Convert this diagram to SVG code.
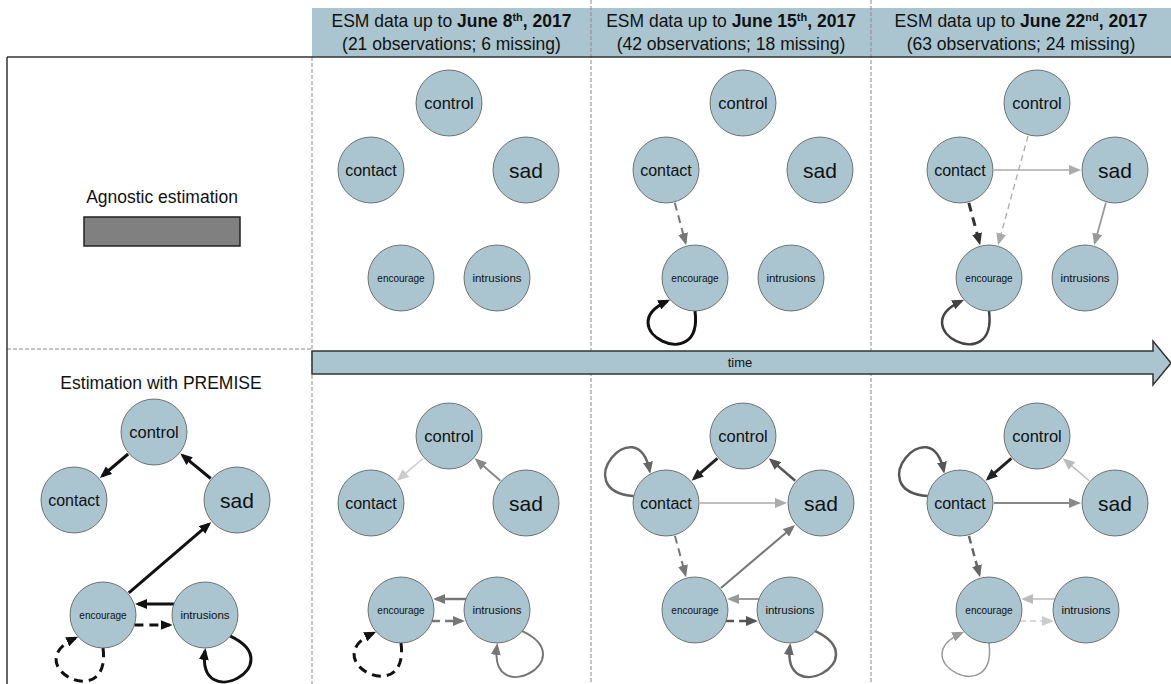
<svg xmlns="http://www.w3.org/2000/svg" width="1171" height="684" viewBox="0 0 1171 684">
<style>
.bg{fill:#ffffff}
.hdr{fill:#aac5cf}
.sep{stroke:#8a8a8a;stroke-width:1;stroke-dasharray:4 2;fill:none}
.frame{stroke:#333;stroke-width:1.5;fill:none}
.nd{fill:#aac5cf;stroke:#555;stroke-width:0.8}
.t{font-family:"Liberation Sans",Arial,Helvetica,sans-serif;fill:#111;text-anchor:middle}
.h{font-size:17.5px}
.fc{font-size:16.5px}
.fk{font-size:16px}
.fs{font-size:21px}
.fe{font-size:10px}
.fi{font-size:11.5px}
.e{fill:none}
.d3{stroke-dasharray:9 6}
.d2{stroke-dasharray:8 5}
.d1{stroke-dasharray:6 4}
</style>
<defs>
<marker id="a111" viewBox="0 0 12 10" refX="9" refY="5" markerWidth="12" markerHeight="10" markerUnits="userSpaceOnUse" orient="auto"><path d="M0,0L12,5L0,10z" fill="#111"/></marker>
<marker id="a222" viewBox="0 0 12 10" refX="9" refY="5" markerWidth="12" markerHeight="10" markerUnits="userSpaceOnUse" orient="auto"><path d="M0,0L12,5L0,10z" fill="#222"/></marker>
<marker id="a333" viewBox="0 0 12 10" refX="9" refY="5" markerWidth="12" markerHeight="10" markerUnits="userSpaceOnUse" orient="auto"><path d="M0,0L12,5L0,10z" fill="#333"/></marker>
<marker id="a444" viewBox="0 0 12 10" refX="9" refY="5" markerWidth="12" markerHeight="10" markerUnits="userSpaceOnUse" orient="auto"><path d="M0,0L12,5L0,10z" fill="#444"/></marker>
<marker id="a555" viewBox="0 0 12 10" refX="9" refY="5" markerWidth="12" markerHeight="10" markerUnits="userSpaceOnUse" orient="auto"><path d="M0,0L12,5L0,10z" fill="#555"/></marker>
<marker id="a666" viewBox="0 0 12 10" refX="9" refY="5" markerWidth="12" markerHeight="10" markerUnits="userSpaceOnUse" orient="auto"><path d="M0,0L12,5L0,10z" fill="#666"/></marker>
<marker id="a777" viewBox="0 0 12 10" refX="9" refY="5" markerWidth="12" markerHeight="10" markerUnits="userSpaceOnUse" orient="auto"><path d="M0,0L12,5L0,10z" fill="#777"/></marker>
<marker id="a888" viewBox="0 0 12 10" refX="9" refY="5" markerWidth="12" markerHeight="10" markerUnits="userSpaceOnUse" orient="auto"><path d="M0,0L12,5L0,10z" fill="#888"/></marker>
<marker id="a999" viewBox="0 0 12 10" refX="9" refY="5" markerWidth="12" markerHeight="10" markerUnits="userSpaceOnUse" orient="auto"><path d="M0,0L12,5L0,10z" fill="#999"/></marker>
<marker id="aaaa" viewBox="0 0 12 10" refX="9" refY="5" markerWidth="12" markerHeight="10" markerUnits="userSpaceOnUse" orient="auto"><path d="M0,0L12,5L0,10z" fill="#aaa"/></marker>
<marker id="abbb" viewBox="0 0 12 10" refX="9" refY="5" markerWidth="12" markerHeight="10" markerUnits="userSpaceOnUse" orient="auto"><path d="M0,0L12,5L0,10z" fill="#bbb"/></marker>
<marker id="accc" viewBox="0 0 12 10" refX="9" refY="5" markerWidth="12" markerHeight="10" markerUnits="userSpaceOnUse" orient="auto"><path d="M0,0L12,5L0,10z" fill="#ccc"/></marker>
</defs>
<rect class="bg" x="0" y="0" width="1171" height="684"/>

<g id="header">
<rect class="hdr" x="312" y="8" width="859" height="49"/>
<text class="t h" x="451.5" y="27">ESM data up to <tspan font-weight="bold">June 8<tspan font-size="11" dy="-6">th</tspan><tspan dy="6">, 2017</tspan></tspan></text>
<text class="t h" x="451.5" y="50">(21 observations; 6 missing)</text>
<text class="t h" x="731" y="27">ESM data up to <tspan font-weight="bold">June 15<tspan font-size="11" dy="-6">th</tspan><tspan dy="6">, 2017</tspan></tspan></text>
<text class="t h" x="731" y="50">(42 observations; 18 missing)</text>
<text class="t h" x="1021" y="27">ESM data up to <tspan font-weight="bold">June 22<tspan font-size="11" dy="-6">nd</tspan><tspan dy="6">, 2017</tspan></tspan></text>
<text class="t h" x="1021" y="50">(63 observations; 24 missing)</text>
</g>

<g id="grid">
<line class="sep" x1="591" y1="0" x2="591" y2="684"/>
<line class="sep" x1="871" y1="0" x2="871" y2="684"/>
<line class="sep" x1="312" y1="57" x2="312" y2="684"/>
<line class="sep" x1="7" y1="349" x2="312" y2="349"/>
<line class="frame" x1="7" y1="57" x2="1171" y2="57"/>
<line class="frame" x1="7" y1="57" x2="7" y2="684"/>
</g>

<g id="legend">
<text class="t h" x="162" y="203">Agnostic estimation</text>
<rect x="84" y="217" width="156" height="29" fill="#808080" stroke="#222" stroke-width="1.5"/>
<text class="t h" x="161" y="389">Estimation with PREMISE</text>
</g>

<g id="time-arrow">
<polygon points="312,351 1153,351 1153,341 1171,363 1153,385 1153,374 312,374" fill="#aac5cf" stroke="#333" stroke-width="1.5"/>
<text class="t" x="740" y="367" font-size="13">time</text>
</g>

<g id="connectors">
<!-- top col2 -->
<line class="e d2" x1="674.8" y1="202.8" x2="685.4" y2="242.3" stroke="#777" stroke-width="2" marker-end="url(#a777)"/>
<path class="e" d="M695,311 C703.7,377.6 608.4,328 667.4,301.1" stroke="#111" stroke-width="3" marker-end="url(#a111)"/>
<!-- top col3 -->
<line class="e" x1="994" y1="170" x2="1078" y2="170" stroke="#aaa" stroke-width="1.5" marker-end="url(#aaaa)"/>
<line class="e d1" x1="1028" y1="135.8" x2="998.8" y2="242.3" stroke="#aaa" stroke-width="1.3" marker-end="url(#aaaa)"/>
<line class="e d3" x1="968.8" y1="202.8" x2="979.4" y2="242.3" stroke="#333" stroke-width="3" marker-end="url(#a333)"/>
<line class="e" x1="1105.9" y1="202.8" x2="1094.9" y2="242.4" stroke="#999" stroke-width="1.8" marker-end="url(#a999)"/>
<path class="e" d="M989,311 C997.7,377.6 902.4,328 961.4,301.1" stroke="#444" stroke-width="2.5" marker-end="url(#a444)"/>
<!-- bottom left (PREMISE) -->
<line class="e" x1="128.1" y1="454" x2="102.2" y2="476" stroke="#111" stroke-width="3" marker-end="url(#a111)"/>
<line class="e" x1="210.7" y1="478.5" x2="182.6" y2="455.4" stroke="#111" stroke-width="3" marker-end="url(#a111)"/>
<line class="e" x1="128.8" y1="592.9" x2="208.9" y2="524.1" stroke="#111" stroke-width="3" marker-end="url(#a111)"/>
<line class="e" x1="173.9" y1="604" x2="138" y2="604" stroke="#111" stroke-width="3" marker-end="url(#a111)"/>
<line class="e d3" x1="134.4" y1="625" x2="169.6" y2="625" stroke="#111" stroke-width="3" marker-end="url(#a111)"/>
<path class="e d3" d="M103,648 C111.7,714.6 16.4,665 75.4,638.1" stroke="#111" stroke-width="3" marker-end="url(#a111)"/>
<path class="e" d="M230.3,636.2 C291.6,665 196.3,714.6 205,651" stroke="#111" stroke-width="3" marker-end="url(#a111)"/>
<!-- bottom col1 -->
<line class="e" x1="423.2" y1="458.2" x2="399.1" y2="478.9" stroke="#ccc" stroke-width="1.5" marker-end="url(#accc)"/>
<line class="e" x1="500.4" y1="480.7" x2="476.9" y2="460.3" stroke="#888" stroke-width="2" marker-end="url(#a888)"/>
<line class="e" x1="465.9" y1="599" x2="436.1" y2="599" stroke="#777" stroke-width="2.5" marker-end="url(#a777)"/>
<line class="e d2" x1="432.1" y1="621" x2="461.9" y2="621" stroke="#777" stroke-width="2.5" marker-end="url(#a777)"/>
<path class="e d3" d="M401,643 C409.7,709.6 314.4,660 373.4,633.1" stroke="#111" stroke-width="3" marker-end="url(#a111)"/>
<path class="e" d="M522.3,631.2 C583.6,660 488.3,709.6 497,646" stroke="#777" stroke-width="2" marker-end="url(#a777)"/>
<!-- bottom col2 -->
<line class="e" x1="717.4" y1="458.3" x2="693.9" y2="478.7" stroke="#222" stroke-width="3" marker-end="url(#a222)"/>
<line class="e" x1="795.2" y1="480.8" x2="771.1" y2="460.1" stroke="#555" stroke-width="2.5" marker-end="url(#a555)"/>
<line class="e" x1="700" y1="503" x2="784" y2="503" stroke="#aaa" stroke-width="1.5" marker-end="url(#aaaa)"/>
<line class="e d2" x1="674.9" y1="535.8" x2="685.3" y2="574.3" stroke="#777" stroke-width="2" marker-end="url(#a777)"/>
<line class="e" x1="720.9" y1="588" x2="792.8" y2="527" stroke="#777" stroke-width="2" marker-end="url(#a777)"/>
<line class="e" x1="758.9" y1="599" x2="730.1" y2="599" stroke="#999" stroke-width="2" marker-end="url(#a999)"/>
<line class="e d2" x1="726.1" y1="621" x2="754.9" y2="621" stroke="#555" stroke-width="2.5" marker-end="url(#a555)"/>
<path class="e" d="M633.7,496.1 C566.7,490.8 636.8,407.4 649.7,470.9" stroke="#666" stroke-width="2.5" marker-end="url(#a666)"/>
<path class="e" d="M815.3,631.2 C876.6,660 781.3,709.6 790,646" stroke="#666" stroke-width="2.5" marker-end="url(#a666)"/>
<!-- bottom col3 -->
<line class="e" x1="1011.4" y1="458.3" x2="987.9" y2="478.7" stroke="#222" stroke-width="3" marker-end="url(#a222)"/>
<line class="e" x1="1089.2" y1="480.8" x2="1065.1" y2="460.1" stroke="#bbb" stroke-width="1.5" marker-end="url(#abbb)"/>
<line class="e" x1="994" y1="503" x2="1078" y2="503" stroke="#888" stroke-width="2" marker-end="url(#a888)"/>
<line class="e d2" x1="968.9" y1="535.8" x2="979.3" y2="574.3" stroke="#666" stroke-width="2.5" marker-end="url(#a666)"/>
<line class="e" x1="1054.9" y1="599" x2="1024.1" y2="599" stroke="#bbb" stroke-width="1.5" marker-end="url(#abbb)"/>
<line class="e d1" x1="1020.1" y1="621" x2="1050.9" y2="621" stroke="#ccc" stroke-width="1.5" marker-end="url(#accc)"/>
<path class="e" d="M927.7,496.1 C860.7,490.8 930.8,407.4 943.7,470.9" stroke="#555" stroke-width="2.5" marker-end="url(#a555)"/>
<path class="e" d="M989,643 C997.7,709.6 902.4,660 961.4,633.1" stroke="#999" stroke-width="1.5" marker-end="url(#a999)"/>
</g>

<!-- top row col1 -->
<g id="t1-control"><circle class="nd" cx="449" cy="103" r="33"/><text class="t fc" x="449" y="109">control</text></g>
<g id="t1-contact"><circle class="nd" cx="371" cy="170" r="33"/><text class="t fk" x="371" y="176">contact</text></g>
<g id="t1-sad"><circle class="nd" cx="526" cy="170" r="33"/><text class="t fs" x="526" y="177.5">sad</text></g>
<g id="t1-encourage"><circle class="nd" cx="401" cy="278" r="33"/><text class="t fe" x="401" y="281.5">encourage</text></g>
<g id="t1-intrusions"><circle class="nd" cx="497" cy="278" r="33"/><text class="t fi" x="497" y="282">intrusions</text></g>
<!-- top row col2 -->
<g id="t2-control"><circle class="nd" cx="743" cy="103" r="33"/><text class="t fc" x="743" y="109">control</text></g>
<g id="t2-contact"><circle class="nd" cx="666" cy="170" r="33"/><text class="t fk" x="666" y="176">contact</text></g>
<g id="t2-sad"><circle class="nd" cx="820" cy="170" r="33"/><text class="t fs" x="820" y="177.5">sad</text></g>
<g id="t2-encourage"><circle class="nd" cx="695" cy="278" r="33"/><text class="t fe" x="695" y="281.5">encourage</text></g>
<g id="t2-intrusions"><circle class="nd" cx="791" cy="278" r="33"/><text class="t fi" x="791" y="282">intrusions</text></g>
<!-- top row col3 -->
<g id="t3-control"><circle class="nd" cx="1037" cy="103" r="33"/><text class="t fc" x="1037" y="109">control</text></g>
<g id="t3-contact"><circle class="nd" cx="960" cy="170" r="33"/><text class="t fk" x="960" y="176">contact</text></g>
<g id="t3-sad"><circle class="nd" cx="1115" cy="170" r="33"/><text class="t fs" x="1115" y="177.5">sad</text></g>
<g id="t3-encourage"><circle class="nd" cx="989" cy="278" r="33"/><text class="t fe" x="989" y="281.5">encourage</text></g>
<g id="t3-intrusions"><circle class="nd" cx="1085" cy="278" r="33"/><text class="t fi" x="1085" y="282">intrusions</text></g>
<!-- bottom row left (PREMISE) -->
<g id="p-control"><circle class="nd" cx="154" cy="432" r="33"/><text class="t fc" x="154" y="438">control</text></g>
<g id="p-contact"><circle class="nd" cx="74" cy="500" r="33"/><text class="t fk" x="74" y="506">contact</text></g>
<g id="p-sad"><circle class="nd" cx="237" cy="500" r="33"/><text class="t fs" x="237" y="507.5">sad</text></g>
<g id="p-encourage"><circle class="nd" cx="103" cy="615" r="33"/><text class="t fe" x="103" y="618.5">encourage</text></g>
<g id="p-intrusions"><circle class="nd" cx="205" cy="615" r="33"/><text class="t fi" x="205" y="619">intrusions</text></g>
<!-- bottom row col1 -->
<g id="b1-control"><circle class="nd" cx="449" cy="436" r="33"/><text class="t fc" x="449" y="442">control</text></g>
<g id="b1-contact"><circle class="nd" cx="371" cy="503" r="33"/><text class="t fk" x="371" y="509">contact</text></g>
<g id="b1-sad"><circle class="nd" cx="526" cy="503" r="33"/><text class="t fs" x="526" y="510.5">sad</text></g>
<g id="b1-encourage"><circle class="nd" cx="401" cy="610" r="33"/><text class="t fe" x="401" y="613.5">encourage</text></g>
<g id="b1-intrusions"><circle class="nd" cx="497" cy="610" r="33"/><text class="t fi" x="497" y="614">intrusions</text></g>
<!-- bottom row col2 -->
<g id="b2-control"><circle class="nd" cx="743" cy="436" r="33"/><text class="t fc" x="743" y="442">control</text></g>
<g id="b2-contact"><circle class="nd" cx="666" cy="503" r="33"/><text class="t fk" x="666" y="509">contact</text></g>
<g id="b2-sad"><circle class="nd" cx="821" cy="503" r="33"/><text class="t fs" x="821" y="510.5">sad</text></g>
<g id="b2-encourage"><circle class="nd" cx="695" cy="610" r="33"/><text class="t fe" x="695" y="613.5">encourage</text></g>
<g id="b2-intrusions"><circle class="nd" cx="790" cy="610" r="33"/><text class="t fi" x="790" y="614">intrusions</text></g>
<!-- bottom row col3 -->
<g id="b3-control"><circle class="nd" cx="1037" cy="436" r="33"/><text class="t fc" x="1037" y="442">control</text></g>
<g id="b3-contact"><circle class="nd" cx="960" cy="503" r="33"/><text class="t fk" x="960" y="509">contact</text></g>
<g id="b3-sad"><circle class="nd" cx="1115" cy="503" r="33"/><text class="t fs" x="1115" y="510.5">sad</text></g>
<g id="b3-encourage"><circle class="nd" cx="989" cy="610" r="33"/><text class="t fe" x="989" y="613.5">encourage</text></g>
<g id="b3-intrusions"><circle class="nd" cx="1086" cy="610" r="33"/><text class="t fi" x="1086" y="614">intrusions</text></g>
</svg>
